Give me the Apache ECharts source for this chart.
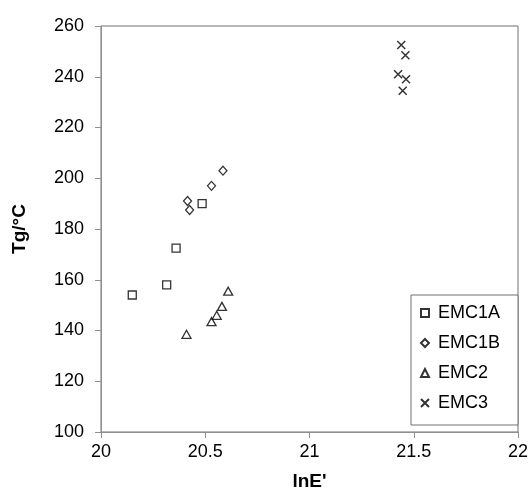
<!DOCTYPE html>
<html>
<head>
<meta charset="utf-8">
<script src="https://cdn.jsdelivr.net/npm/echarts@6/dist/echarts.min.js"></script>
<style>html,body{margin:0;padding:0;background:#fff}#c{width:531px;height:490px}</style>
</head>
<body>
<div id="c"></div>
<script>
const seriesNames = ['EMC1A', 'EMC1B', 'EMC2', 'EMC3'];
const emc1aX = [20.15, 20.315, 20.36, 20.485];
const emc1aY = [154, 158, 172.5, 190];
const emc1bX = [20.415, 20.425, 20.53, 20.585];
const emc1bY = [191, 187.5, 197, 203];
const emc2X = [20.41, 20.53, 20.555, 20.58, 20.61];
const emc2Y = [138.5, 143.5, 146, 149.5, 155.5];
const emc3X = [21.44, 21.46, 21.425, 21.463, 21.447];
const emc3Y = [252.5, 248.5, 241, 239, 234.5];
const xTicks = [20, 20.5, 21, 21.5, 22];
const yTicks = [100, 120, 140, 160, 180, 200, 220, 240, 260];

const pair = (xs, ys) => xs.map((x, i) => [x, ys[i]]);
const font = 'Liberation Sans, Arial, sans-serif';
const crossPath = 'path://M0,0L10,10M10,0L0,10';
const hollow = {color: '#fff', borderColor: '#000', borderWidth: 1.3};

const chart = echarts.init(document.getElementById('c'));
chart.setOption({
  animation: false,
  backgroundColor: '#fff',
  grid: {left: 101, right: 13, top: 26, bottom: 58, show: true, borderColor: '#707070', borderWidth: 1,
         containLabel: false, outerBoundsMode: 'none'},
  xAxis: {
    type: 'value', min: xTicks[0], max: xTicks[xTicks.length - 1], interval: 0.5,
    name: "lnE'", nameLocation: 'middle', nameGap: 40,
    nameTextStyle: {fontFamily: font, fontSize: 19, fontWeight: 'bold', color: '#000'},
    axisLine: {show: true, lineStyle: {color: '#909090', width: 1}},
    axisTick: {show: true, inside: false, length: 6, lineStyle: {color: '#909090'}},
    axisLabel: {fontFamily: font, fontSize: 18, color: '#000', margin: 11},
    splitLine: {show: false}
  },
  yAxis: {
    type: 'value', min: yTicks[0], max: yTicks[yTicks.length - 1], interval: 20,
    name: 'Tg/°C', nameLocation: 'middle', nameGap: 72,
    nameTextStyle: {fontFamily: font, fontSize: 19, fontWeight: 'bold', color: '#000'},
    axisLine: {show: true, lineStyle: {color: '#909090', width: 1}},
    axisTick: {show: true, inside: false, length: 6, lineStyle: {color: '#909090'}},
    axisLabel: {fontFamily: font, fontSize: 18, color: '#000', margin: 17},
    splitLine: {show: false}
  },
  legend: {
    orient: 'vertical', right: 13, top: 295,
    data: seriesNames,
    itemWidth: 8, itemHeight: 8, itemGap: 10,
    padding: [8, 18, 12, 9],
    borderColor: '#707070', borderWidth: 1, backgroundColor: '#fff',
    textStyle: {fontFamily: font, fontSize: 18, color: '#000', lineHeight: 20, padding: [0, 0, 0, 4]}
  },
  series: [
    {name: seriesNames[0], type: 'scatter', symbol: 'rect', symbolSize: 8, data: pair(emc1aX, emc1aY), itemStyle: hollow},
    {name: seriesNames[1], type: 'scatter', symbol: 'diamond', symbolSize: [8, 9], data: pair(emc1bX, emc1bY), itemStyle: hollow},
    {name: seriesNames[2], type: 'scatter', symbol: 'triangle', symbolSize: [9, 8], data: pair(emc2X, emc2Y), itemStyle: hollow},
    {name: seriesNames[3], type: 'scatter', symbol: crossPath, symbolSize: 8, data: pair(emc3X, emc3Y), itemStyle: {color: '#000', borderColor: '#000', borderWidth: 1.5}}
  ]
});
</script>
</body>
</html>
